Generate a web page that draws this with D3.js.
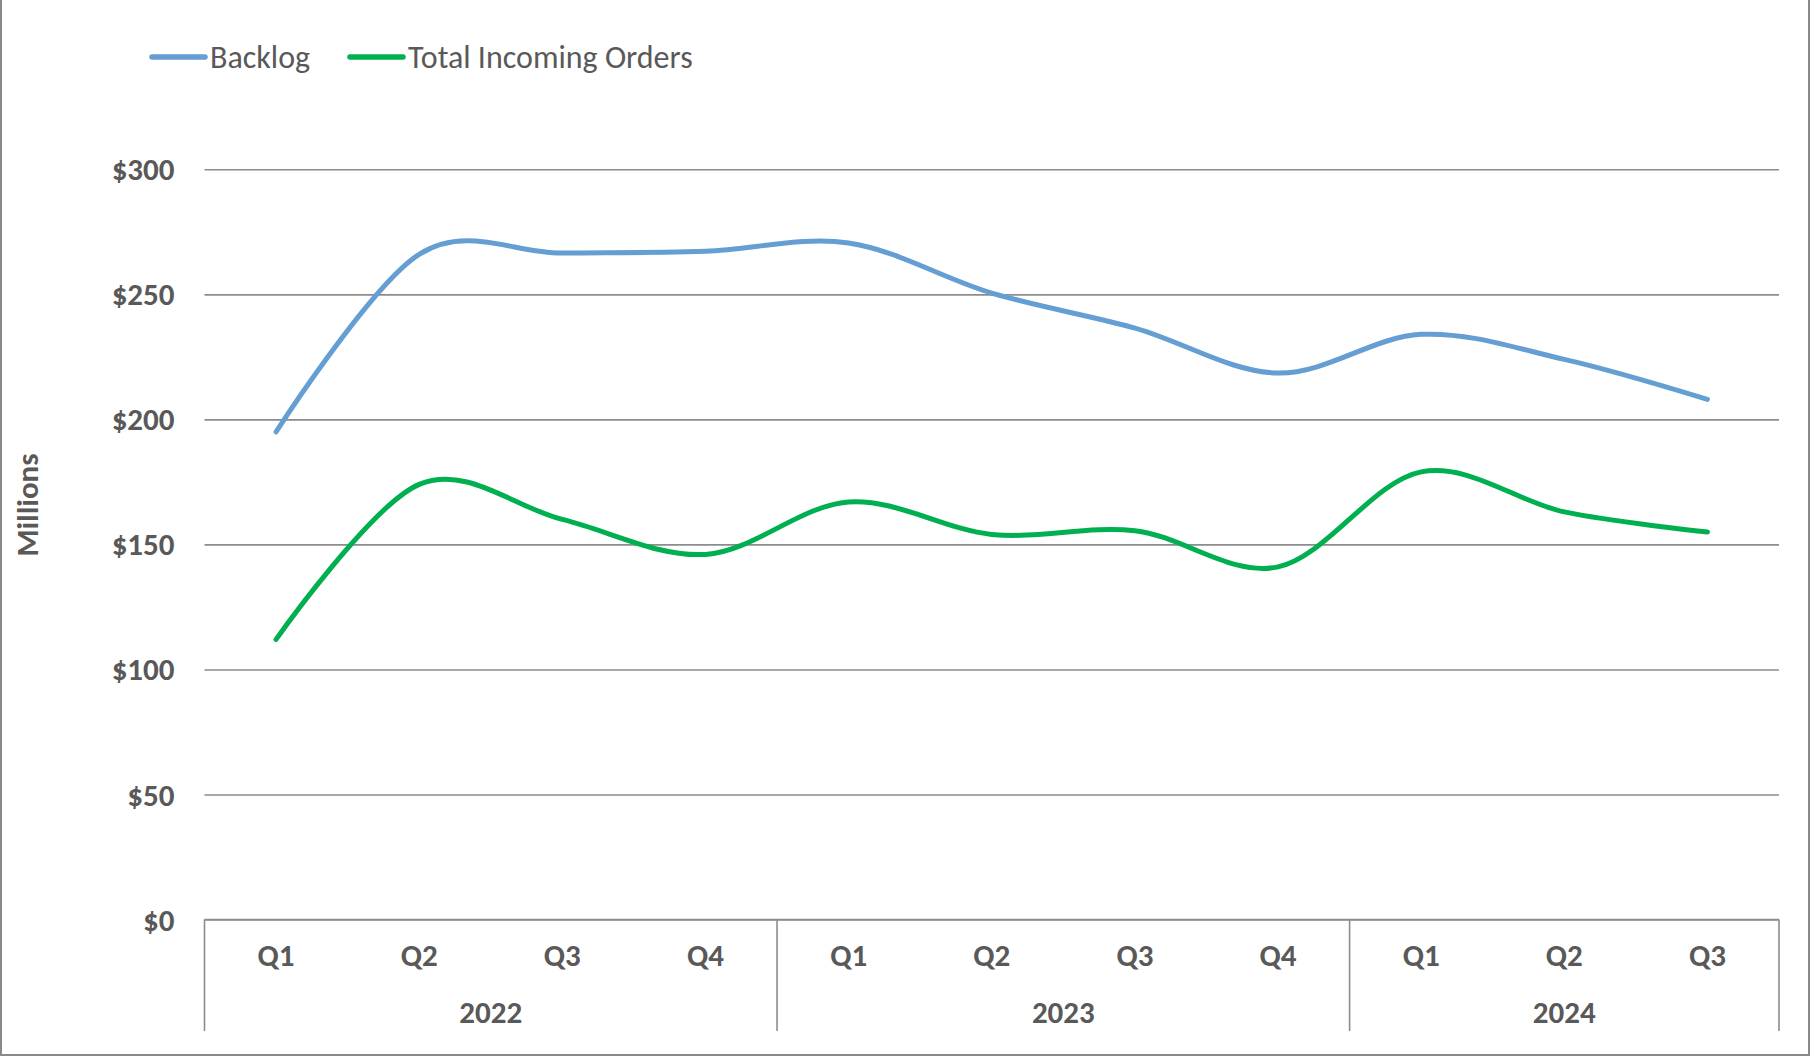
<!DOCTYPE html>
<html>
<head>
<meta charset="utf-8">
<script src="https://cdn.jsdelivr.net/npm/d3@7"></script>
<style>
  body { margin: 0; background: #fff; }
  svg { display: block; font-family: Carlito, Lato, "Open Sans", sans-serif; }
</style>
</head>
<body>
<svg id="chart" width="1811" height="1058"></svg>
<script>
"use strict";

let width = 1811;
let height = 1058;

// data (millions of $)
const quarters = ["Q1", "Q2", "Q3", "Q4", "Q1", "Q2", "Q3", "Q4", "Q1", "Q2", "Q3"];
const years = ["2022", "2022", "2022", "2022", "2023", "2023", "2023", "2023", "2024", "2024", "2024"];
const backlog = [195, 266, 266.5, 267.2, 270.5, 250.5, 236.5, 218.5, 234, 224, 208];
const incoming = [112, 174, 160, 146, 167, 154, 155.5, 141, 179, 163, 155];
const yTicks = [0, 50, 100, 150, 200, 250, 300];
const seriesNames = ["Backlog", "Total Incoming Orders"];
const seriesColors = ["#659ed3", "#00b050"];

let svg = d3.select('#chart');
let textColor = "#595959";
let gridColor = "#8c8c8c";
let boldSize = "31px";

let margin = { left: 204.5, right: 1779, top: 169.3, bottom: 919.5 };

let keys = quarters.map((q, i) => i);
let x = d3.scaleBand()
    .domain(keys)
    .range([margin.left, margin.right])
    .padding(0);

let y = d3.scaleLinear()
    .domain([0, 300])
    .range([margin.bottom, margin.top]);

// frame (left, right, bottom edges)
svg.append("path")
    .attr("d", `M1,0 V${height - 3} H${width - 2} V0`)
    .attr("fill", "none")
    .attr("stroke", "#8a8a8a")
    .attr("stroke-width", 2);

// Gridlines + y tick labels
let yAxis = svg.append("g")
    .attr("transform", `translate(${margin.left},0)`)
    .call(d3.axisLeft(y)
        .tickValues(yTicks)
        .tickSize(-(margin.right - margin.left))
        .tickPadding(30)
        .tickFormat(d => "$" + d))
    .attr("font-family", null)
    .attr("font-size", null);
yAxis.select(".domain").remove();
yAxis.selectAll(".tick line")
    .attr("stroke", gridColor)
    .attr("stroke-width", 1.6);
yAxis.selectAll(".tick text")
    .attr("fill", textColor)
    .style("font-size", boldSize)
    .style("font-weight", "bold")
    .attr("dy", "0.34em");

// Y axis title
svg.append("text")
    .attr("transform", "translate(38,505) rotate(-90)")
    .attr("text-anchor", "middle")
    .attr("fill", textColor)
    .style("font-size", boldSize)
    .style("font-weight", "bold")
    .text("Millions");

// Category axis: quarter labels
let xAxis = svg.append("g")
    .attr("transform", `translate(0,${margin.bottom})`)
    .call(d3.axisBottom(x)
        .tickSize(0)
        .tickPadding(24)
        .tickFormat(i => quarters[i]))
    .attr("font-family", null)
    .attr("font-size", null);
xAxis.select(".domain").remove();
xAxis.selectAll(".tick text")
    .attr("fill", textColor)
    .style("font-size", boldSize)
    .style("font-weight", "bold");

// axis baseline
svg.append("line")
    .attr("x1", margin.left).attr("x2", margin.right)
    .attr("y1", y(0)).attr("y2", y(0))
    .attr("stroke", gridColor)
    .attr("stroke-width", 1.6);

// year groups
let groups = d3.groups(keys, i => years[i]);
let bounds = [margin.left];
groups.forEach(([yr, idx]) => {
    let x0 = x(idx[0]);
    let x1 = x(idx[idx.length - 1]) + x.bandwidth();
    bounds.push(x1);
    svg.append("text")
        .attr("x", (x0 + x1) / 2)
        .attr("y", 1023)
        .attr("text-anchor", "middle")
        .attr("fill", textColor)
        .style("font-size", boldSize)
        .style("font-weight", "bold")
        .text(yr);
});
svg.selectAll(".sep")
    .data(bounds)
    .enter()
    .append("line")
    .attr("class", "sep")
    .attr("x1", d => d).attr("x2", d => d)
    .attr("y1", y(0)).attr("y2", 1031)
    .attr("stroke", gridColor)
    .attr("stroke-width", 1.6);

// Lines (smoothed like the spreadsheet)
let line = d3.line()
    .x((d, i) => x(i) + x.bandwidth() / 2)
    .y(d => y(d))
    .curve(d3.curveCardinal.tension(0));

[backlog, incoming].forEach((vals, s) => {
    svg.append("path")
        .datum(vals)
        .attr("d", line)
        .attr("fill", "none")
        .attr("stroke", seriesColors[s])
        .attr("stroke-width", 5)
        .attr("stroke-linecap", "round");
});

// Legend
let legendPos = [[152, 210], [350, 408]];
seriesNames.forEach((name, s) => {
    let g = svg.append("g");
    g.append("line")
        .attr("x1", legendPos[s][0]).attr("x2", legendPos[s][0] + 53)
        .attr("y1", 57).attr("y2", 57)
        .attr("stroke", seriesColors[s])
        .attr("stroke-width", 5.5)
        .attr("stroke-linecap", "round");
    g.append("text")
        .attr("x", legendPos[s][1])
        .attr("y", 57)
        .attr("dy", "0.34em")
        .attr("fill", textColor)
        .style("font-size", "32px")
        .text(name);
});
</script>
</body>
</html>
